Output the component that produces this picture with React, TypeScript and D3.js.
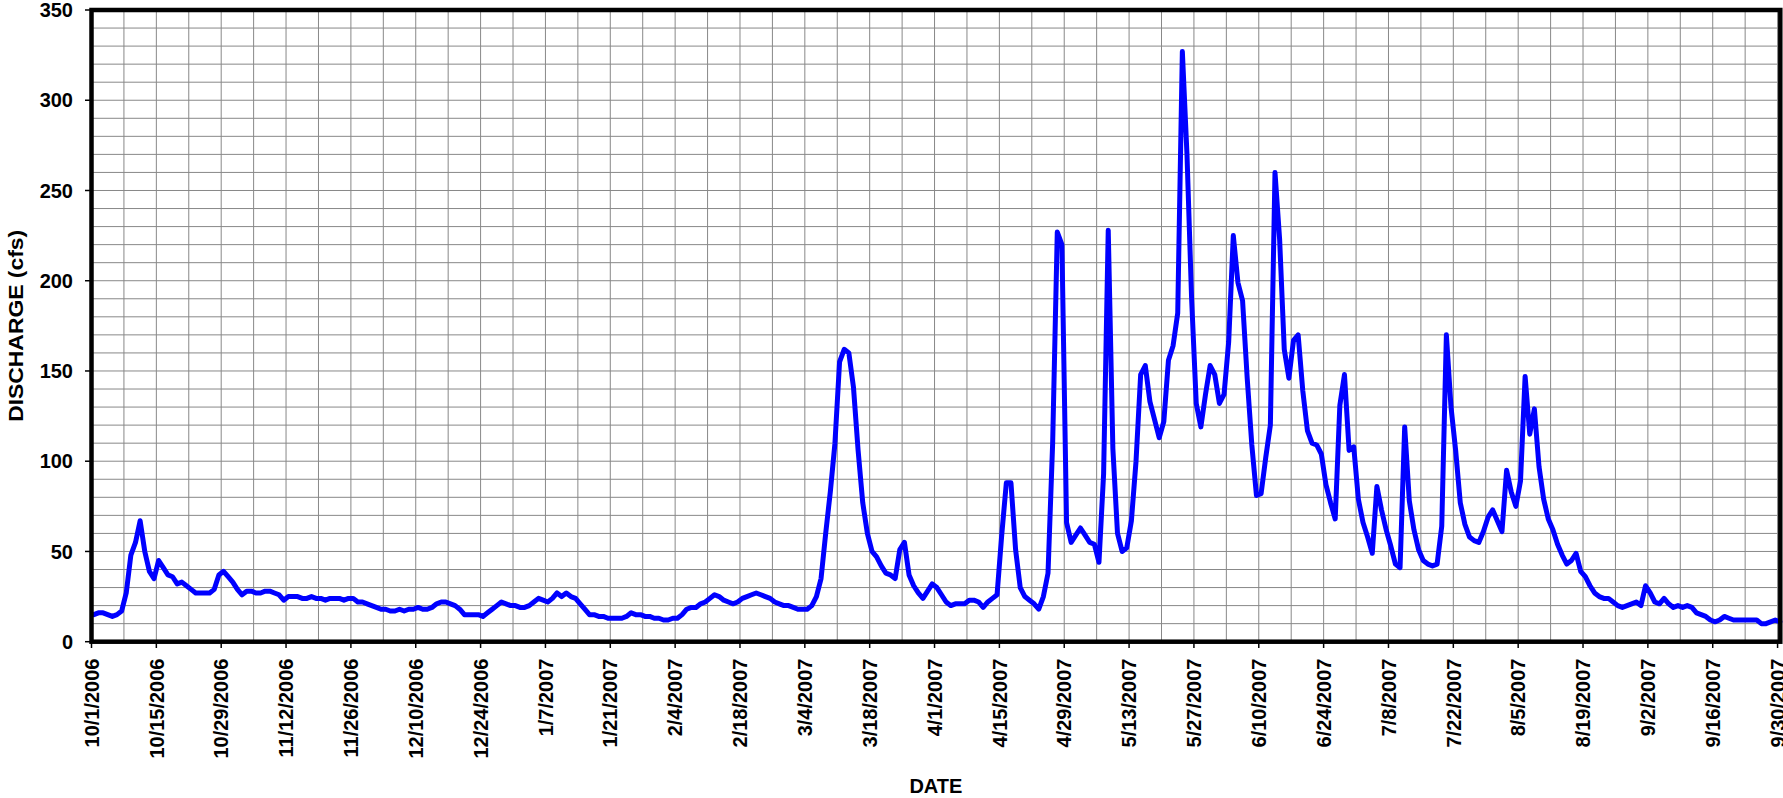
import * as d3 from "d3";
import React, { useEffect, useRef } from "react";

// daily mean discharge (cfs), water year 2007, one array per month
const oct2006 = [15, 16, 16, 15, 14, 15, 17, 27, 48, 55, 67, 50, 39, 35, 45, 41, 37, 36, 32, 33, 31, 29, 27, 27, 27, 27, 29, 37, 39, 36, 33];
const nov2006 = [29, 26, 28, 28, 27, 27, 28, 28, 27, 26, 23, 25, 25, 25, 24, 24, 25, 24, 24, 23, 24, 24, 24, 23, 24, 24, 22, 22, 21, 20];
const dec2006 = [19, 18, 18, 17, 17, 18, 17, 18, 18, 19, 18, 18, 19, 21, 22, 22, 21, 20, 18, 15, 15, 15, 15, 14, 16, 18, 20, 22, 21, 20, 20];
const jan2007 = [19, 19, 20, 22, 24, 23, 22, 24, 27, 25, 27, 25, 24, 21, 18, 15, 15, 14, 14, 13, 13, 13, 13, 14, 16, 15, 15, 14, 14, 13, 13];
const feb2007 = [12, 12, 13, 13, 15, 18, 19, 19, 21, 22, 24, 26, 25, 23, 22, 21, 22, 24, 25, 26, 27, 26, 25, 24, 22, 21, 20, 20];
const mar2007 = [19, 18, 18, 18, 20, 25, 35, 60, 83, 110, 155, 162, 160, 141, 106, 77, 60, 50, 47, 42, 38, 37, 35, 51, 55, 37, 31, 27, 24, 28, 32];
const apr2007 = [30, 26, 22, 20, 21, 21, 21, 23, 23, 22, 19, 22, 24, 26, 59, 88, 88, 51, 30, 25, 23, 21, 18, 25, 38, 110, 227, 220, 66, 55];
const may2007 = [59, 63, 59, 55, 54, 44, 93, 228, 107, 60, 50, 52, 67, 100, 148, 153, 133, 123, 113, 122, 156, 164, 182, 327, 270, 190, 132, 119, 137, 153, 148];
const jun2007 = [132, 137, 166, 225, 199, 189, 146, 109, 81, 82, 102, 120, 260, 223, 162, 146, 167, 170, 139, 117, 110, 109, 104, 87, 77, 68, 131, 148, 106, 108];
const jul2007 = [79, 66, 58, 49, 86, 73, 62, 53, 43, 41, 119, 78, 62, 51, 45, 43, 42, 43, 64, 170, 130, 106, 77, 65, 58, 56, 55, 61, 69, 73, 67];
const aug2007 = [61, 95, 83, 75, 89, 147, 115, 129, 97, 79, 68, 62, 54, 48, 43, 45, 49, 39, 36, 31, 27, 25, 24, 24, 22, 20, 19, 20, 21, 22, 20];
const sep2007 = [31, 27, 22, 21, 24, 21, 19, 20, 19, 20, 19, 16, 15, 14, 12, 11, 12, 14, 13, 12, 12, 12, 12, 12, 12, 10, 10, 11, 12, 11];

const discharge = [
    ...oct2006, ...nov2006, ...dec2006, ...jan2007, ...feb2007, ...mar2007,
    ...apr2007, ...may2007, ...jun2007, ...jul2007, ...aug2007, ...sep2007,
];

const yTicks = [0, 50, 100, 150, 200, 250, 300, 350];
const xTickLabels = [
    "10/1/2006", "10/15/2006", "10/29/2006", "11/12/2006", "11/26/2006", "12/10/2006",
    "12/24/2006", "1/7/2007", "1/21/2007", "2/4/2007", "2/18/2007", "3/4/2007",
    "3/18/2007", "4/1/2007", "4/15/2007", "4/29/2007", "5/13/2007", "5/27/2007",
    "6/10/2007", "6/24/2007", "7/8/2007", "7/22/2007", "8/5/2007", "8/19/2007",
    "9/2/2007", "9/16/2007", "9/30/2007",
];

const DAY = 86400000;
const START = Date.UTC(2006, 9, 1);
const FONT = "'Liberation Sans', Arial, Helvetica, sans-serif";

const Hydrograph: React.FC = () => {
    const svgRef = useRef<SVGSVGElement>(null);

    useEffect(() => {
        const svg = d3.select(svgRef.current);
        svg.selectAll("*").remove();

        const left = 91.5, top = 10, bottom = 641.7, frameRight = 1780.3;

        const x = d3.scaleUtc()
            .domain([new Date(START), new Date(START + 365 * DAY)])
            .range([left, 1782.2]);
        const y = d3.scaleLinear().domain([0, 350]).range([bottom, top]);

        // grid: every 10 cfs, every 7 days
        const g = svg.append("g").attr("stroke", "#888").attr("stroke-width", 1);
        g.selectAll("line.h")
            .data(d3.range(10, 350, 10))
            .enter().append("line")
            .attr("x1", left).attr("x2", frameRight)
            .attr("y1", d => y(d)).attr("y2", d => y(d));
        g.selectAll("line.v")
            .data(d3.range(7, 365, 7))
            .enter().append("line")
            .attr("x1", d => x(new Date(START + d * DAY))).attr("x2", d => x(new Date(START + d * DAY)))
            .attr("y1", top).attr("y2", bottom);

        // discharge line, each day centred in its slot
        const line = d3.line<number>()
            .x((_, i) => x(new Date(START + (i + 0.5) * DAY)))
            .y(v => y(v));
        svg.append("path")
            .datum(discharge)
            .attr("d", line)
            .attr("fill", "none")
            .attr("stroke", "#0000ff")
            .attr("stroke-width", 5)
            .attr("stroke-linejoin", "round")
            .attr("stroke-linecap", "round");

        // plot frame
        svg.append("rect")
            .attr("x", left).attr("y", top)
            .attr("width", frameRight - left).attr("height", bottom - top)
            .attr("fill", "none").attr("stroke", "#000").attr("stroke-width", 4.5);

        // y ticks + labels
        svg.selectAll("line.yt")
            .data(yTicks)
            .enter().append("line")
            .attr("x1", 85).attr("x2", left)
            .attr("y1", d => y(d)).attr("y2", d => y(d))
            .attr("stroke", "#000").attr("stroke-width", 1.5);
        svg.selectAll("text.yl")
            .data(yTicks)
            .enter().append("text")
            .attr("x", 73).attr("y", d => y(d)).attr("dy", "0.36em")
            .attr("text-anchor", "end")
            .attr("font-family", FONT).attr("font-weight", "bold").attr("font-size", 20)
            .text(d => d);

        // x ticks + rotated date labels
        const xt = (i: number) => x(new Date(START + i * 14 * DAY));
        svg.selectAll("line.xt")
            .data(xTickLabels)
            .enter().append("line")
            .attr("x1", (_, i) => xt(i)).attr("x2", (_, i) => xt(i))
            .attr("y1", bottom).attr("y2", 648)
            .attr("stroke", "#000").attr("stroke-width", 1.5);
        svg.selectAll("text.xl")
            .data(xTickLabels)
            .enter().append("text")
            .attr("transform", (_, i) => `translate(${xt(i)},658.5) rotate(-90)`)
            .attr("dy", "0.36em")
            .attr("text-anchor", "end")
            .attr("font-family", FONT).attr("font-weight", "bold").attr("font-size", 20)
            .text(d => d);

        // axis titles
        svg.append("text")
            .attr("x", (left + frameRight) / 2).attr("y", 792.5)
            .attr("text-anchor", "middle")
            .attr("font-family", FONT).attr("font-weight", "bold").attr("font-size", 20)
            .text("DATE");
        svg.append("text")
            .attr("transform", `translate(22.5,${(top + bottom) / 2}) rotate(-90)`)
            .attr("text-anchor", "middle")
            .attr("font-family", FONT).attr("font-weight", "bold").attr("font-size", 20)
            .attr("textLength", 192).attr("lengthAdjust", "spacingAndGlyphs")
            .text("DISCHARGE (cfs)");
    }, []);

    return (
        <svg ref={svgRef} width={1783} height={798}
            style={{ position: "absolute", left: 0, top: 0, background: "#fff", display: "block" }} />
    );
};

export default function App() {
    return <Hydrograph />;
}
